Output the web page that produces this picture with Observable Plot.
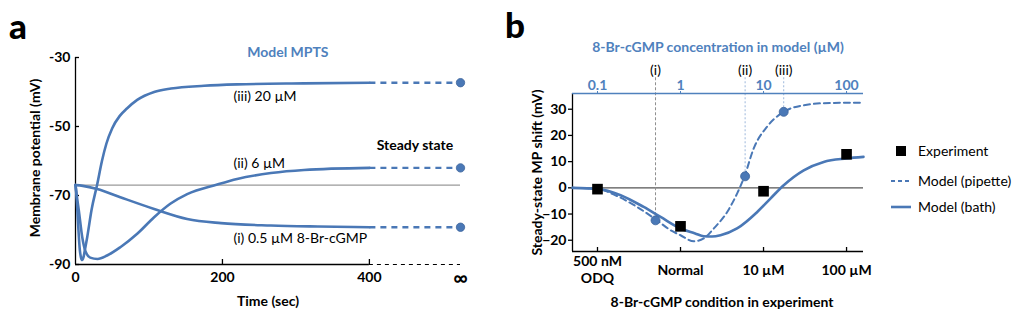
<!DOCTYPE html>
<html><head><meta charset="utf-8">
<script src="https://cdn.jsdelivr.net/npm/d3@7"></script>
<script src="https://cdn.jsdelivr.net/npm/@observablehq/plot@0.6"></script>
<style>
body{margin:0;background:#fff;}
#fig{position:relative;width:1021px;height:323px;overflow:hidden;font-family:Lato,"Noto Sans",sans-serif;background:#fff;}
#fig svg{position:absolute;top:0;overflow:visible;}
</style></head><body>
<div id="fig"></div>
<script>
// ---------- Panel a data ----------
const restVm = -67;
const tInf = 524;                      // position of the "∞" tick on the time axis
const timeTicks = [0, 200, 400];
const vmTicks = [-90, -70, -50, -30];
const curveNames = ["(i)", "(ii)", "(iii)"];
const tI   = [0, 10, 29.5, 61, 107, 152, 198, 266, 330, 400];
const vI   = [-67, -67.2, -68.1, -70.5, -73.9, -76.8, -78, -78.7, -79, -79.2];
const tII  = [0, 2, 4.5, 9.1, 13.6, 20, 30, 43, 61, 84, 107, 129, 152, 193, 220, 266, 311, 400];
const vII  = [-67, -70.5, -74.3, -82, -86.2, -88, -88.4, -87.4, -85, -81.1, -76.3, -72.4, -69.6, -66.8, -65.2, -63.5, -62.6, -62];
const tIII = [0, 1.5, 3.2, 5.9, 7.5, 9.1, 11, 13, 16, 22, 29.5, 36, 42, 50, 60, 70, 84, 107, 130, 175, 220, 311, 400];
const vIII = [-67, -70.5, -77, -85.8, -88, -88.7, -87.8, -85.5, -82, -74, -66.8, -60, -55, -50.5, -47, -44.8, -42.3, -40, -39, -38.2, -37.8, -37.5, -37.3];
const steadyVm = [-79.2, -62, -37.3];
const curveLabels = ["(i) 0.5 µM 8-Br-cGMP", "(ii) 6 µM", "(iii) 20 µM"];
const curveLabelT = [215, 215, 215];
const curveLabelV = [-82.5, -60.7, -41.3];
const noteText = ["Model MPTS", "Steady state"];
const noteT = [289, 462];
const noteV = [-28.6, -55.5];

// ---------- Panel b data ----------
const condTicks = [0.1, 1, 10, 100];
const condLabels = ["500 nM\nODQ", "Normal", "10 µM", "100 µM"];
const expShift = [-0.5, -14.7, -1.3, 12.8];
const modelTicks = [0.1, 1, 10, 100];
const shiftTicks = [-20, -10, 0, 10, 20, 30];
const markerLabels = ["(i)", "(ii)", "(iii)"];
const markerConc = [0.5, 6, 17.5];
const markerShift = [-12.4, 4.4, 29];
const markerTop = 42;      // top end of the guide lines
const markerLabelY = 44.8;
const pipetteConc  = [0.05, 0.1, 0.158, 0.30, 0.52, 0.76, 1.0, 1.45, 1.91, 2.52, 3.65, 4.8, 5.9, 7.6, 11, 17.5, 30.5, 63.8, 160];
const pipetteShift = [0, -0.3, -2.6, -7.3, -12.4, -16.2, -18.1, -20.4, -19.3, -15.5, -9.2, -2.2, 4.4, 15, 23.3, 29, 31.5, 32.4, 32.5];
const bathConc  = [0.05, 0.1, 0.19, 0.36, 0.575, 1.0, 1.5, 1.91, 2.4, 3.03, 4.8, 8.4, 12.1, 17.5, 30.5, 53, 100, 160];
const bathShift = [0, -0.4, -2.8, -7.3, -11.1, -15.5, -17.4, -18.5, -18.6, -18.1, -15.5, -9.2, -4.1, 1.0, 6.7, 9.9, 11.2, 11.8];
const legendLabels = ["Experiment", "Model (pipette)", "Model (bath)"];
const panelLetters = ["a", "b"];

// ---------- styling ----------
const BLUE = "#4a78b6";
const TBLUE = "#4f81bd";
const FONT = "Lato";

const zip = (xs, ys, k) => xs.map((x, i) => ({x, y: ys[i], k}));
const curvesA = [
  ...zip(tI, vI, "(i)"), ...zip(tII, vII, "(ii)"), ...zip(tIII, vIII, "(iii)")
];
const steadyA = curveNames.map((k, i) => ({k, v: steadyVm[i]}));
const labA = curveLabels.map((s, i) => ({s, t: curveLabelT[i], v: curveLabelV[i]}));
const notesA = noteText.map((s, i) => ({s, t: noteT[i], v: noteV[i]}));

const fig = document.getElementById("fig");

const plotA = Plot.plot({
  width: 500, height: 323,
  marginLeft: 75, marginRight: 40, marginTop: 57, marginBottom: 59,
  x: {domain: [0, tInf], axis: null},
  y: {domain: [-90, -30], axis: null},
  style: {fontFamily: FONT, fontSize: "14px", color: "black", background: "transparent", overflow: "visible"},
  marks: [
    Plot.ruleY([restVm], {x1: 0, x2: tInf, stroke: "#9a9a9a", strokeWidth: 1.3}),
    Plot.ruleX([0], {y1: -90, y2: -30, stroke: "black", strokeWidth: 1.3}),
    Plot.ruleY([-90], {x1: 0, x2: timeTicks[timeTicks.length - 1], stroke: "black", strokeWidth: 1.3}),
    Plot.ruleY([-90], {x1: timeTicks[timeTicks.length - 1], x2: tInf, stroke: "black", strokeWidth: 1, strokeDasharray: "4,4"}),
    Plot.axisY(vmTicks, {tickSize: 4, dx: 4, tickFormat: () => "", strokeWidth: 1.3}),
    Plot.axisY(vmTicks, {tickSize: 0, tickPadding: 5, fontWeight: "bold", fontSize: 14, tickFormat: d => d}),
    Plot.axisX(timeTicks.slice(1), {tickSize: 5, dy: -5, tickFormat: () => "", strokeWidth: 1.3}),
    Plot.axisX(timeTicks, {tickSize: 0, tickPadding: 8, fontWeight: "bold", fontSize: 14}),
    Plot.text(["∞"], {x: tInf, y: -90, dy: 14, fontWeight: "bold", fontSize: 20, lineAnchor: "middle"}),
    Plot.text(["Time (sec)"], {frameAnchor: "bottom", dy: 37, lineAnchor: "middle", fontWeight: "bold", fontSize: 14}),
    Plot.text(["Membrane potential (mV)"], {frameAnchor: "left", textAnchor: "middle", lineAnchor: "middle", dx: -40, dy: -3, rotate: -90, fontWeight: "bold", fontSize: 14}),
    Plot.line(curvesA, {x: "x", y: "y", z: "k", stroke: BLUE, strokeWidth: 2.6, curve: "monotone-x"}),
    Plot.link(steadyA, {x1: timeTicks[timeTicks.length - 1], x2: tInf, y1: "v", y2: "v", stroke: BLUE, strokeWidth: 2.4, strokeDasharray: "6,5"}),
    Plot.dot(steadyA, {x: tInf, y: "v", r: 4.2, fill: BLUE, stroke: "#3d659c", strokeWidth: 0.8}),
    Plot.text(labA, {x: "t", y: "v", text: "s", textAnchor: "start", fontSize: 14}),
    Plot.text(notesA.slice(0, 1), {x: "t", y: "v", text: "s", fontWeight: "bold", fill: TBLUE, fontSize: 14}),
    Plot.text(notesA.slice(1), {x: "t", y: "v", text: "s", fontWeight: "bold", fontSize: 14})
  ]
});
plotA.style.left = "0px";
fig.appendChild(plotA);

// ---------- Panel b ----------
const pip = zip(pipetteConc, pipetteShift);
const bath = zip(bathConc, bathShift);
const exps = condTicks.map((c, i) => ({c, v: expShift[i]}));
const marks3 = markerLabels.map((s, i) => ({s, c: markerConc[i], v: markerShift[i]}));

const plotB = Plot.plot({
  width: 521, height: 323,
  marginLeft: 72, marginRight: 158, marginTop: 93, marginBottom: 72,
  x: {type: "log", domain: [0.05, 160], axis: null},
  y: {domain: [-24.3, 36], axis: null},
  style: {fontFamily: FONT, fontSize: "14px", color: "black", background: "transparent", overflow: "visible"},
  marks: [
    Plot.ruleY([0], {stroke: "#555", strokeWidth: 1.1}),
    Plot.ruleX(marks3.slice(0, 1), {x: "c", y1: markerTop, y2: "v", stroke: "#8f8f8f", strokeWidth: 1, strokeDasharray: "3,2"}),
    Plot.ruleX(marks3.slice(1), {x: "c", y1: markerTop, y2: "v", stroke: "#9db8dc", strokeWidth: 1, strokeDasharray: "2,2"}),
    Plot.text(marks3, {x: "c", y: markerLabelY, text: "s", fontSize: 14}),
    Plot.ruleX([0.05], {stroke: "black", strokeWidth: 1.3}),
    Plot.ruleY([-24.3], {stroke: "black", strokeWidth: 1.3}),
    Plot.ruleY([36], {stroke: TBLUE, strokeWidth: 1.5}),
    Plot.axisY(shiftTicks, {tickSize: 4, tickPadding: 2, fontWeight: "bold", fontSize: 14, strokeWidth: 1.3}),
    Plot.axisX(condTicks, {tickSize: 4, dy: -4, tickFormat: () => "", strokeWidth: 1.3}),
    Plot.text(condLabels, {x: (d, i) => condTicks[i], y: -24.3, dy: 18, lineAnchor: "middle", lineHeight: 1.2, fontWeight: "bold", fontSize: 14}),
    Plot.axisX(modelTicks, {anchor: "top", tickSize: 3, tickPadding: 1, color: TBLUE, fontWeight: "bold", fontSize: 14, tickFormat: d => String(d)}),
    Plot.text(["8-Br-cGMP concentration in model (µM)"], {frameAnchor: "top", dy: -46, lineAnchor: "middle", fill: TBLUE, fontWeight: "bold", fontSize: 14}),
    Plot.text(["8-Br-cGMP condition in experiment"], {frameAnchor: "bottom", dx: 4, dy: 51, lineAnchor: "middle", fontWeight: "bold", fontSize: 14}),
    Plot.text(["Steady-state MP shift (mV)"], {frameAnchor: "left", textAnchor: "middle", lineAnchor: "middle", dx: -35, rotate: -90, fontWeight: "bold", fontSize: 14}),
    Plot.line(bath, {x: "x", y: "y", stroke: BLUE, strokeWidth: 2.6, curve: "monotone-x"}),
    Plot.line(pip, {x: "x", y: "y", stroke: BLUE, strokeWidth: 2, strokeDasharray: "6,4", curve: "monotone-x"}),
    Plot.dot(marks3, {x: "c", y: "v", r: 4.5, fill: BLUE, stroke: "#3d659c", strokeWidth: 0.8}),
    Plot.dot(exps, {x: "c", y: "v", symbol: "square", r: 6, fill: "black"})
  ]
});
plotB.style.left = "500px";
fig.appendChild(plotB);

// ---------- Legend (panel b) ----------
const leg = d3.create("svg").attr("width", 140).attr("height", 90)
  .style("left", "880px").style("top", "130px")
  .attr("font-family", FONT).attr("font-size", 14);
const rows = [21, 51, 77];
leg.append("rect").attr("x", 16).attr("y", rows[0] - 5).attr("width", 10).attr("height", 10).attr("fill", "black");
leg.append("line").attr("x1", 11).attr("x2", 31).attr("y1", rows[1]).attr("y2", rows[1])
  .attr("stroke", BLUE).attr("stroke-width", 2).attr("stroke-dasharray", "4,3");
leg.append("line").attr("x1", 11).attr("x2", 31).attr("y1", rows[2]).attr("y2", rows[2])
  .attr("stroke", BLUE).attr("stroke-width", 2.6);
legendLabels.forEach((s, i) => {
  leg.append("text").attr("x", 38).attr("y", rows[i]).attr("dy", "0.35em").text(s);
});
fig.appendChild(leg.node());

// ---------- panel letters ----------
const letters = d3.create("svg").attr("width", 1021).attr("height", 50).style("left", "0px")
  .attr("font-family", FONT).attr("font-weight", 900).attr("font-size", 35);
letters.append("text").attr("x", 9).attr("y", 39).text(panelLetters[0]);
letters.append("text").attr("x", 505).attr("y", 38).text(panelLetters[1]);
fig.appendChild(letters.node());
</script>
</body></html>
